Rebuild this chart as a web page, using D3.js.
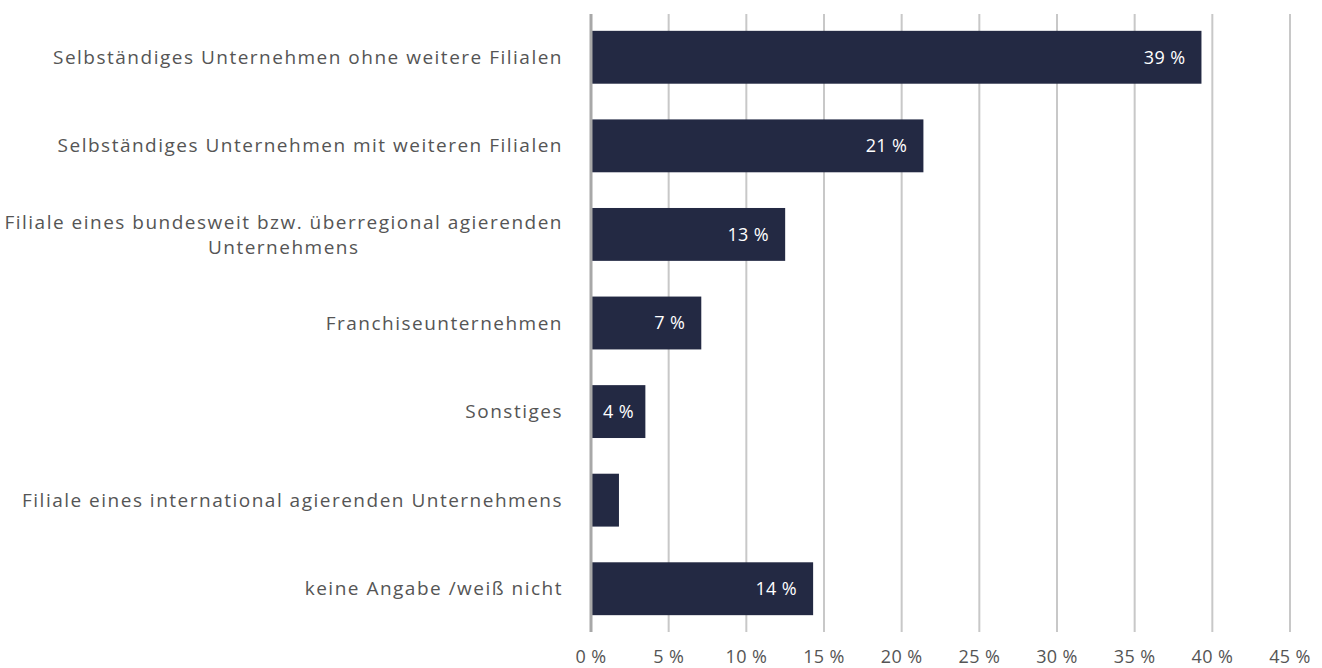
<!DOCTYPE html>
<html><head><meta charset="utf-8">
<script src="https://cdn.jsdelivr.net/npm/d3@7/dist/d3.min.js"></script>
<style>body{margin:0;background:#fff;}svg{display:block;}</style>
</head><body><svg id="c" width="1322" height="668"></svg>
<script>
const categories = [
  "Selbständiges Unternehmen ohne weitere Filialen",
  "Selbständiges Unternehmen mit weiteren Filialen",
  "Filiale eines bundesweit bzw. überregional agierenden\nUnternehmens",
  "Franchiseunternehmen",
  "Sonstiges",
  "Filiale eines international agierenden Unternehmens",
  "keine Angabe /weiß nicht"
];
const values = [39.3, 21.4, 12.5, 7.1, 3.5, 1.8, 14.3];
const valueLabels = ["39 %", "21 %", "13 %", "7 %", "4 %", "", "14 %"];
const tickValues = [0,5,10,15,20,25,30,35,40,45];
const tickLabels = ["0 %","5 %","10 %","15 %","20 %","25 %","30 %","35 %","40 %","45 %"];

(function(){
const svg = d3.select("#c");
const pL = 591, pR = 1290, pT = 14, pB = 632;
const FONT = "'Open Sans', sans-serif";
const x = d3.scaleLinear().domain([0,45]).range([pL,pR]);
const y = d3.scaleBand().domain(d3.range(categories.length)).range([pT, pB]).paddingInner(0.403).paddingOuter(0.19);

svg.append("g").selectAll("line").data(tickValues.slice(1)).join("line")
  .attr("x1", d=>x(d)).attr("x2", d=>x(d)).attr("y1", pT).attr("y2", pB)
  .attr("stroke", "#c8c8c8").attr("stroke-width", 2);

svg.append("g").selectAll("rect").data(values).join("rect")
  .attr("x", x(0)).attr("y", (d,i)=>y(i)).attr("width", d=>x(d)-x(0)).attr("height", y.bandwidth())
  .attr("fill", "#232943");

svg.append("line").attr("x1", x(0)).attr("x2", x(0)).attr("y1", pT).attr("y2", pB)
  .attr("stroke", "#a8a8a8").attr("stroke-width", 3);

const vl = svg.append("g").attr("font-family",FONT).attr("font-size", 18).attr("fill","#fff").attr("letter-spacing", 0.4);
values.forEach((v,i)=>{
  if(!valueLabels[i]) return;
  const t = vl.append("text").text(valueLabels[i]).attr("y", y(i)+y.bandwidth()/2).attr("dy","0.35em");
  const w = t.node().getComputedTextLength();
  let xs = x(v) - 16 - w;
  if (xs < x(0) + 12) xs = x(0) + 12;
  t.attr("x", xs);
});

const cl = svg.append("g").attr("font-family",FONT).attr("font-size", 19).attr("fill","#555");
const probe = cl.append("text").text(categories[0]);
const baseW = probe.node().getComputedTextLength();
probe.remove();
const ls = (510 - baseW) / (categories[0].length);
cl.attr("letter-spacing", ls);
categories.forEach((c,i)=>{
  const lines = c.split("\n");
  const cy = y(i)+y.bandwidth()/2;
  const lh = 25;
  const g = cl.append("g");
  const ts = lines.map((ln,k)=> g.append("text").text(ln).attr("y", cy + (k-(lines.length-1)/2)*lh).attr("dy","0.35em"));
  const ws = ts.map(t=>t.node().getComputedTextLength());
  const W = d3.max(ws);
  const rx = 563;
  ts.forEach(t=>t.attr("text-anchor","middle").attr("x", rx - W/2));
});

svg.append("g").attr("font-family",FONT).attr("font-size", 18).attr("fill","#555").attr("letter-spacing", 0.4)
  .selectAll("text").data(tickValues).join("text")
  .attr("x", d=>x(d)).attr("y", 657).attr("dy","0.35em").attr("text-anchor","middle")
  .text((d,i)=>tickLabels[i]);
})();
</script></body></html>
